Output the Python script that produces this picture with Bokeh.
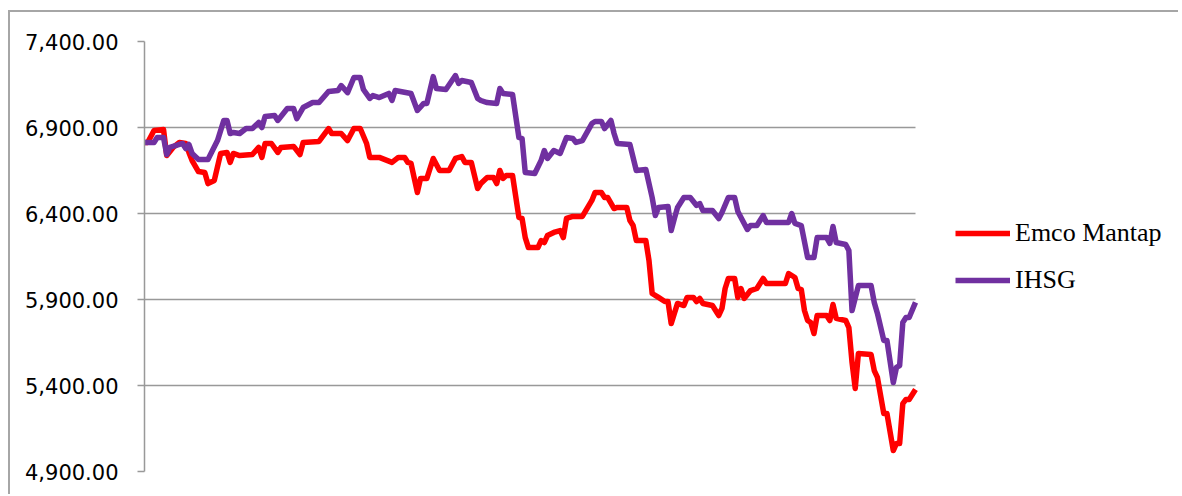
from bokeh.plotting import figure
from bokeh.models import Range1d, FixedTicker, NumeralTickFormatter, Legend, LegendItem
from bokeh.embed import file_html
from bokeh.resources import INLINE

# trading-day index and values
ihsg_day = [0, 3, 4, 6, 7, 8, 12, 13, 14, 15, 17, 20, 23, 25, 26, 27, 28, 30, 32, 34,
            36, 37, 38, 41, 42, 45, 47, 48, 50, 53, 55, 58, 61, 62, 64, 66, 68, 69, 71, 72,
            74, 77, 78, 79, 84, 86, 88, 89, 91, 92, 95, 98, 99, 100, 103, 105, 106, 108, 111, 112,
            113, 116, 118, 119, 120, 123, 125, 126, 127, 129, 131, 133, 135, 136, 138, 141, 142, 144, 145, 147,
            148, 149, 153, 155, 158, 160, 161, 162, 165, 166, 167, 168, 170, 172, 174, 175, 176, 179, 181, 182,
            184, 186, 187, 190, 191, 193, 195, 196, 203, 204, 205, 207, 209, 211, 212, 215, 216, 217, 218, 221,
            222, 223, 225, 229, 230, 231, 233, 234, 236, 237, 238, 239, 240, 241, 243]
ihsg_val = [6813, 6813, 6842, 6842, 6743, 6784, 6807, 6778, 6801, 6749, 6714, 6714, 6824, 6941, 6941, 6865, 6871, 6865, 6894, 6894,
            6929, 6900, 6964, 6970, 6941, 7010, 7010, 6952, 7016, 7045, 7045, 7109, 7115, 7144, 7103, 7191, 7191, 7121, 7069, 7086,
            7074, 7098, 7057, 7115, 7098, 6999, 7040, 7040, 7196, 7127, 7121, 7202, 7156, 7173, 7162, 7069, 7057, 7045, 7040, 7127,
            7098, 7092, 6842, 6836, 6638, 6633, 6708, 6766, 6720, 6766, 6749, 6842, 6836, 6813, 6824, 6923, 6935, 6935, 6894, 6941,
            6865, 6807, 6801, 6650, 6656, 6493, 6388, 6435, 6441, 6301, 6371, 6435, 6493, 6493, 6447, 6458, 6417, 6417, 6371, 6406,
            6493, 6493, 6412, 6307, 6330, 6330, 6388, 6348, 6348, 6400, 6342, 6330, 6144, 6144, 6260, 6260, 6226, 6324, 6231, 6220,
            6185, 5836, 5981, 5981, 5883, 5819, 5662, 5662, 5417, 5505, 5516, 5766, 5795, 5795, 5883]

emco_day = [0, 1, 3, 6, 7, 9, 11, 13, 14, 15, 17, 19, 20, 22, 24, 26, 27, 28, 30, 34,
            36, 37, 38, 40, 42, 43, 47, 49, 50, 55, 58, 59, 62, 64, 66, 68, 70, 71, 74, 78,
            80, 82, 83, 84, 86, 87, 89, 91, 93, 96, 98, 100, 101, 103, 105, 106, 108, 110, 111, 112,
            113, 114, 116, 118, 119, 120, 121, 124, 125, 126, 127, 129, 131, 132, 133, 135, 138, 141, 142, 144,
            145, 146, 148, 149, 152, 153, 154, 155, 158, 159, 160, 162, 164, 165, 166, 167, 168, 170, 171, 173,
            174, 175, 176, 179, 181, 182, 183, 184, 186, 187, 188, 189, 191, 193, 195, 196, 202, 203, 205, 206,
            207, 208, 209, 210, 211, 212, 215, 216, 217, 218, 221, 222, 223, 224, 225, 229, 230, 231, 233, 234,
            236, 237, 238, 239, 240, 241, 243]
emco_val = [6813, 6813, 6883, 6888, 6737, 6784, 6813, 6807, 6755, 6708, 6644, 6638, 6574, 6592, 6749, 6755, 6697, 6749, 6737, 6743,
            6784, 6726, 6807, 6807, 6755, 6784, 6790, 6743, 6813, 6819, 6894, 6865, 6865, 6824, 6894, 6894, 6807, 6726, 6726, 6697,
            6726, 6726, 6697, 6691, 6522, 6604, 6604, 6720, 6650, 6650, 6720, 6731, 6697, 6697, 6545, 6574, 6609, 6609, 6574, 6650,
            6604, 6621, 6621, 6377, 6371, 6260, 6202, 6202, 6243, 6231, 6272, 6290, 6301, 6260, 6371, 6383, 6383, 6476, 6522, 6522,
            6493, 6493, 6429, 6435, 6435, 6359, 6330, 6243, 6243, 6127, 5935, 5912, 5888, 5888, 5760, 5819, 5877, 5865, 5912, 5912,
            5888, 5906, 5877, 5865, 5807, 5848, 5964, 6022, 6022, 5912, 5964, 5906, 5952, 5964, 6022, 5993, 5993, 6051, 6028, 5964,
            5958, 5836, 5778, 5766, 5702, 5807, 5807, 5778, 5871, 5790, 5778, 5737, 5534, 5383, 5586, 5580, 5487, 5447, 5237, 5237,
            5022, 5063, 5063, 5295, 5319, 5319, 5377]

y_ticks = [4900, 5400, 5900, 6400, 6900, 7400]
series_names = ["Emco Mantap", "IHSG"]
series_colors = ["#FF0000", "#7030A0"]

last_day = max(ihsg_day)
W, H = 1170, 484
left_b = 134
plot_px = 771                      # pixel width of the data area
frame_px = W - left_b              # frame reaches to the canvas right edge (legend lives inside)
x_end = last_day * frame_px / plot_px

p = figure(width=W, height=H, output_backend="svg", toolbar_location=None,
           x_range=Range1d(0, x_end), y_range=Range1d(4900, 7400),
           min_border_left=left_b, min_border_right=0, min_border_top=29,
           min_border_bottom=25)
p.styles = {"margin-left": "8px", "margin-top": "10px",
            "border-top": "2px solid #a6a6a6", "border-left": "2px solid #a6a6a6"}
p.outline_line_color = None
p.xaxis.visible = False
p.xgrid.visible = False

ax = p.yaxis[0]
ax.ticker = FixedTicker(ticks=y_ticks)
ax.formatter = NumeralTickFormatter(format="0,0.00")
ax.axis_line_color = "#999999"
ax.axis_line_width = 1.5
ax.major_tick_line_color = "#999999"
ax.major_tick_line_width = 1.5
ax.major_tick_out = 7
ax.major_tick_in = 0
ax.minor_tick_line_color = None
ax.major_label_text_font = "DejaVu Sans"
ax.major_label_text_font_size = "21px"
ax.major_label_text_color = "#000000"
ax.major_label_standoff = 19

g = p.ygrid[0]
if "cross_bounds" in g.properties():
    g.ticker = FixedTicker(ticks=y_ticks)
    g.grid_line_color = "#999999"
    g.grid_line_width = 1.5
    g.cross_bounds = (0, last_day)
else:
    g.visible = False
    p.segment(x0=[0] * len(y_ticks), x1=[last_day] * len(y_ticks), y0=y_ticks, y1=y_ticks,
              line_color="#999999", line_width=1.5)

r1 = p.line(emco_day, emco_val, line_color=series_colors[0], line_width=5.5, line_join="round")
r2 = p.line(ihsg_day, ihsg_val, line_color=series_colors[1], line_width=5.5, line_join="round")

legend = Legend(items=[LegendItem(label=series_names[0], renderers=[r1]),
                       LegendItem(label=series_names[1], renderers=[r2])],
                location=(801, 161), orientation="vertical")
legend.label_text_font = "Liberation Serif"
legend.label_text_font_size = "26px"
legend.label_text_color = "#000000"
legend.glyph_width = 55
legend.glyph_height = 40
legend.label_standoff = 5
legend.spacing = 7
legend.padding = 10
legend.margin = 0
legend.border_line_alpha = 0
legend.background_fill_alpha = 0
p.add_layout(legend, "center")

open("out.html", "w").write(file_html(p, INLINE))
